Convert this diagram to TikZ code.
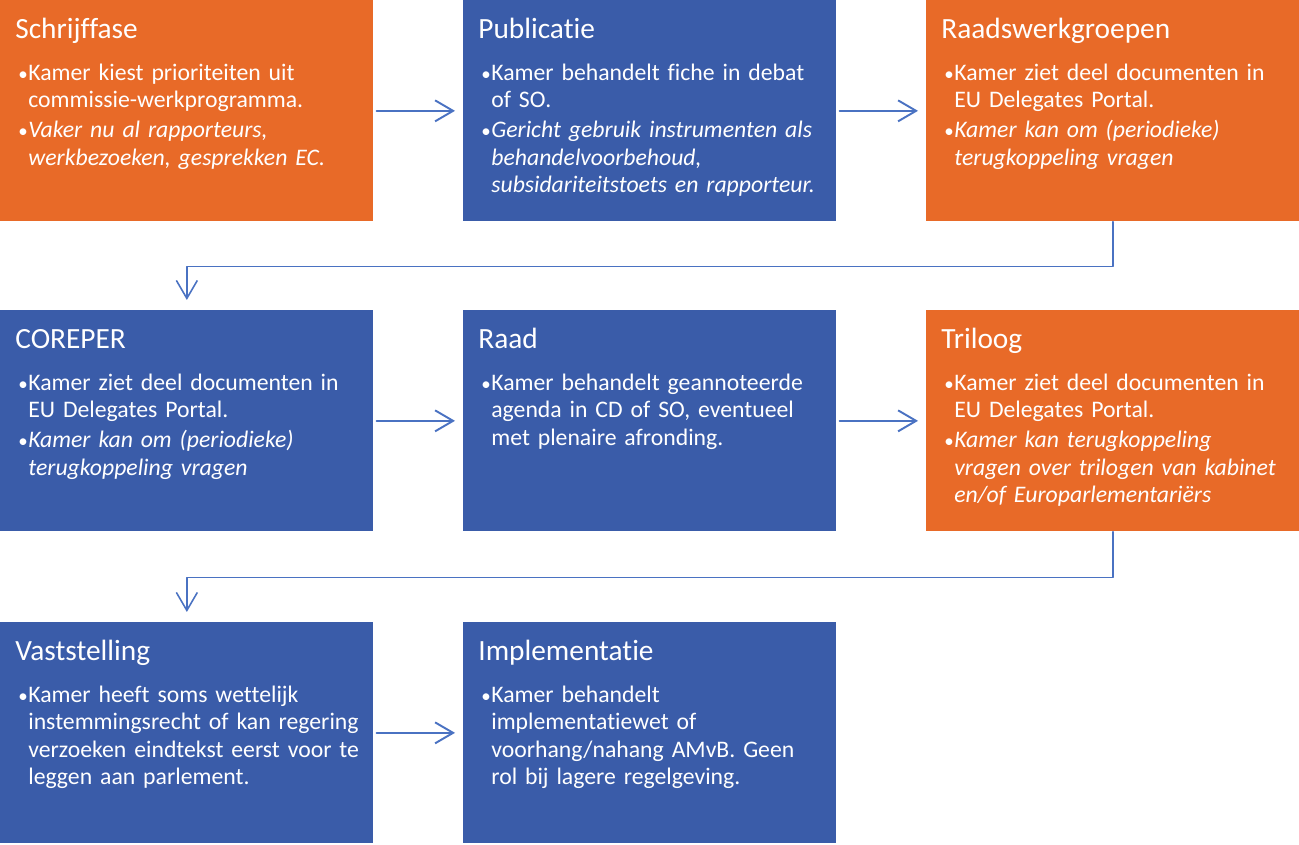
\documentclass[tikz,border=0pt]{standalone}
\usepackage{fontspec}
\setmainfont{Carlito}[Ligatures=NoCommon]
\usepackage{tikz}
\usetikzlibrary{arrows.meta}
\definecolor{oranjevak}{RGB}{232,106,40}
\definecolor{blauwvak}{RGB}{58,92,169}
\definecolor{pijlblauw}{RGB}{74,114,194}
\newcommand{\kop}[1]{{\fontsize{16.7}{18}\selectfont #1}\par\vspace{7.1pt}}
\newcommand{\punt}[1]{\par\vspace{1.2pt}\hangindent=0.26cm\hangafter=1\noindent
  \rightskip=0pt plus 1fil minus 0.4cm\hspace*{0.06cm}\makebox[0.2cm][l]{\scalebox{0.8}{\textbullet}}#1\par}
\tikzset{
  vak/.style={anchor=north west, inner xsep=0.3cm, inner ysep=0cm,
    text width=6.86cm, text height=0.76cm, text depth=3.66cm, align=left,
    text=white, font=\fontsize{13.5}{15.65}\selectfont,
    execute at begin node={\hyphenpenalty=10000}},
  oranje/.style={vak, fill=oranjevak},
  blauw/.style={vak, fill=blauwvak},
  pijl/.style={draw=pijlblauw, line width=1.1pt, shorten <=0.06cm, shorten >=0.16cm},
  knik/.style={draw=pijlblauw, line width=0.9pt, shorten >=0.2cm}
}

\begin{document}
\begin{tikzpicture}[line cap=round,line join=round,>={Straight Barb[length=0.36cm,width=0.42cm]},x=1.0cm,y=1.0cm]
\useasboundingbox (0,0) rectangle (25.98,-16.9);
\node[oranje] (schrijf) at (0,0) {\kop{Schrijffase}
  \punt{Kamer kiest prioriteiten uit\newline commissie-werkprogramma.}
  \punt{\itshape Vaker nu al rapporteurs,\newline werkbezoeken, gesprekken EC.}};
\node[blauw] (publicatie) at (9.26,0) {\kop{Publicatie}
  \punt{Kamer behandelt fiche in debat\newline of SO.}
  \punt{\itshape Gericht gebruik instrumenten als\newline behandelvoorbehoud,\newline subsidariteitstoets en rapporteur.}};
\node[oranje] (werkgroep) at (18.52,0) {\kop{Raadswerkgroepen}
  \punt{Kamer ziet deel documenten in\newline EU Delegates Portal.}
  \punt{\itshape Kamer kan om (periodieke)\newline terugkoppeling vragen}};
\node[blauw] (coreper) at (0,-6.2) {\kop{COREPER}
  \punt{Kamer ziet deel documenten in\newline EU Delegates Portal.}
  \punt{\itshape Kamer kan om (periodieke)\newline terugkoppeling vragen}};
\node[blauw] (raad) at (9.26,-6.2) {\kop{Raad}
  \punt{Kamer behandelt geannoteerde\newline agenda in CD of SO, eventueel\newline met plenaire afronding.}};
\node[oranje] (triloog) at (18.52,-6.2) {\kop{Triloog}
  \punt{Kamer ziet deel documenten in\newline EU Delegates Portal.}
  \punt{\itshape Kamer kan terugkoppeling\newline vragen over trilogen van kabinet\newline en/of Europarlementariërs}};
\node[blauw] (vaststelling) at (0,-12.44) {\kop{Vaststelling}
  \punt{Kamer heeft soms wettelijk\newline instemmingsrecht of kan regering\newline verzoeken eindtekst eerst voor te\newline leggen aan parlement.}};
\node[blauw] (implementatie) at (9.26,-12.44) {\kop{Implementatie}
  \punt{Kamer behandelt\newline implementatiewet of\newline voorhang/nahang AMvB. Geen\newline rol bij lagere regelgeving.}};
\draw [pijl,->] (schrijf) -- (publicatie);
\draw [pijl,->] (publicatie) -- (werkgroep);
\draw [knik,->] (werkgroep.south) -- ++(0,-0.9) -| (coreper.north);
\draw [pijl,->] (coreper) -- (raad);
\draw [pijl,->] (raad) -- (triloog);
\draw [knik,->] (triloog.south) -- ++(0,-0.92) -| (vaststelling.north);
\draw [pijl,->] (vaststelling) -- (implementatie);
\end{tikzpicture}
\end{document}
